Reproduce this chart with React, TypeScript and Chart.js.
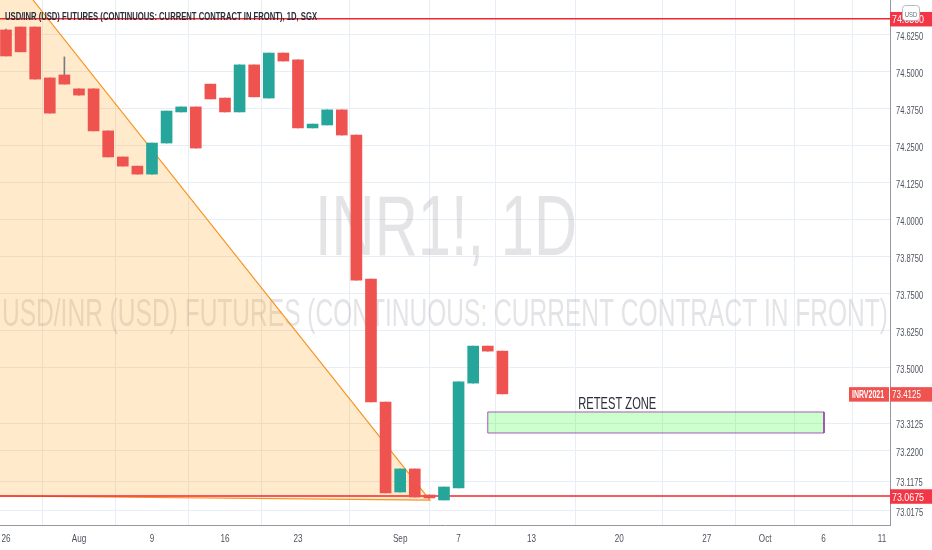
import React, { useEffect, useRef } from 'react';
import { Chart, registerables } from 'chart.js';

Chart.register(...registerables);

// ---- data ----
const OPEN = [74.642, 74.652, 74.652, 74.48, 74.49, 74.443, 74.443, 74.301, 74.213, 74.182, 74.155, 74.26, 74.365, 74.382, 74.459, 74.412, 74.365, 74.524, 74.412, 74.564, 74.541, 74.311, 74.321, 74.372, 74.287, 73.8, 73.385, 73.081, 73.159, 73.071, 73.054, 73.095, 73.449, 73.574, 73.557];
const CLOSE = [74.554, 74.568, 74.476, 74.361, 74.459, 74.422, 74.301, 74.213, 74.182, 74.155, 74.26, 74.368, 74.382, 74.243, 74.409, 74.365, 74.524, 74.416, 74.564, 74.537, 74.311, 74.324, 74.372, 74.287, 73.797, 73.385, 73.078, 73.159, 73.064, 73.061, 73.098, 73.453, 73.574, 73.557, 73.4125];
const HIGH = [74.645, 74.652, 74.652, 74.48, 74.551, 74.443, 74.443, 74.301, 74.213, 74.182, 74.26, 74.368, 74.382, 74.382, 74.459, 74.412, 74.524, 74.524, 74.564, 74.564, 74.541, 74.324, 74.372, 74.372, 74.287, 73.8, 73.385, 73.159, 73.159, 73.071, 73.098, 73.453, 73.574, 73.574, 73.557];
const LOW = [74.554, 74.568, 74.476, 74.361, 74.459, 74.422, 74.301, 74.213, 74.182, 74.155, 74.155, 74.26, 74.365, 74.243, 74.409, 74.365, 74.365, 74.416, 74.412, 74.537, 74.311, 74.311, 74.321, 74.287, 73.797, 73.385, 73.078, 73.081, 73.064, 73.061, 73.054, 73.095, 73.449, 73.557, 73.4125];

const X_TICK_INDEX = [0, 5, 10, 15, 20, 27, 31, 36, 42, 48, 52, 56, 60];
const X_TICK_LABELS = ['26', 'Aug', '9', '16', '23', 'Sep', '7', '13', '20', '27', 'Oct', '6', '11'];
const Y_TICKS = [73.0175, 73.1175, 73.22, 73.3125, 73.5, 73.625, 73.75, 73.875, 74.0, 74.125, 74.25, 74.375, 74.5, 74.625];

const PRICE_LINES = [74.68, 73.0675];
const LAST_PRICE = 73.4125;
const LAST_LABEL = 'INRV2021';

const TRIANGLE_X = [-0.41, 1.85, 29.04, -0.41];
const TRIANGLE_Y = [74.7432, 74.7432, 73.054, 73.0676];

const ZONE_X = [33.0, 56.03];
const ZONE_Y = [73.2804, 73.3514];
const ZONE_LABEL = 'RETEST ZONE';
const ZONE_LABEL_POS = [39.2, 73.3615];

const X_RANGE = [-0.41, 60.55];
const Y_RANGE = [72.9696, 74.7432];

const TITLE = 'USD/INR (USD) FUTURES (CONTINUOUS: CURRENT CONTRACT IN FRONT), 1D, SGX';
const WATERMARK_1 = 'INR1!, 1D';
const WATERMARK_2 = 'USD/INR (USD) FUTURES (CONTINUOUS: CURRENT CONTRACT IN FRONT)';

// ---- styles ----
const FONT = '"Liberation Sans", Arial, sans-serif';
const UP = '#26a69a';
const DOWN = '#ef5350';
const GRID = '#e8eef5';
const AXIS = '#9598a1';
const TEXT = '#131722';
const LABEL = '#4c525e';

function fitText(
  ctx: CanvasRenderingContext2D,
  text: string,
  x: number,
  y: number,
  font: string,
  color: string,
  opts: { width?: number; squeeze?: number; align?: 'left' | 'center' }
) {
  ctx.save();
  ctx.font = font;
  ctx.textAlign = 'left';
  ctx.textBaseline = 'alphabetic';
  const w = ctx.measureText(text).width;
  const s = opts.width ? opts.width / w : opts.squeeze || 1;
  const tw = w * s;
  const x0 = opts.align === 'center' ? x - tw / 2 : x;
  ctx.translate(x0, y);
  ctx.scale(s, 1);
  ctx.fillStyle = color;
  ctx.fillText(text, 0, 0);
  ctx.restore();
}

function box(ctx: CanvasRenderingContext2D, x: number, y: number, w: number, h: number, fill: string) {
  ctx.fillStyle = fill;
  ctx.fillRect(x, y, w, h);
}

const overlayPlugin = {
  id: 'overlay',
  beforeDatasetsDraw(chart: any) {
    const { ctx, chartArea } = chart;
    ctx.save();
    ctx.beginPath();
    ctx.rect(chartArea.left, chartArea.top, chartArea.right - chartArea.left, chartArea.bottom - chartArea.top);
    ctx.clip();
    const cx = (chartArea.left + chartArea.right) / 2 + 1;
    fitText(ctx, WATERMARK_1, cx, 255, `85px ${FONT}`, 'rgba(149,152,161,0.26)', { width: 262, align: 'center' });
    fitText(ctx, WATERMARK_2, cx - 1, 326, `39px ${FONT}`, 'rgba(149,152,161,0.26)', { width: 886, align: 'center' });
    ctx.restore();
  },
  afterDatasetsDraw(chart: any) {
    const { ctx } = chart;
    const xs = chart.scales.x;
    const ys = chart.scales.y;
    fitText(
      ctx,
      ZONE_LABEL,
      xs.getPixelForValue(ZONE_LABEL_POS[0]),
      ys.getPixelForValue(ZONE_LABEL_POS[1]),
      `16.5px ${FONT}`,
      '#2a2e39',
      { width: 78 }
    );
    fitText(ctx, TITLE, 5, 19.5, `bold 11px ${FONT}`, '#2a2e39', { width: 312 });
  },
  afterDraw(chart: any) {
    const { ctx, chartArea } = chart;
    const xs = chart.scales.x;
    const ys = chart.scales.y;
    // x tick labels
    xs.ticks.forEach((t: any) => {
      const i = X_TICK_INDEX.indexOf(t.value);
      if (i < 0) return;
      fitText(ctx, X_TICK_LABELS[i], xs.getPixelForValue(t.value), 541.5, `11px ${FONT}`, LABEL, {
        squeeze: 0.74,
        align: 'center',
      });
    });
    // y tick labels
    ys.ticks.forEach((t: any) => {
      const py = ys.getPixelForValue(t.value);
      fitText(ctx, t.value.toFixed(4), chartArea.right + 6, py + 5, `10px ${FONT}`, LABEL, { squeeze: 0.75 });
    });
    const axX = chartArea.right;
    // price line labels
    PRICE_LINES.forEach((v) => {
      const py = ys.getPixelForValue(v) + 0.5;
      box(ctx, axX, py - 7.25, 932 - axX, 14.5, '#f23645');
      fitText(ctx, v.toFixed(4), axX + 2, py + 4, `11px ${FONT}`, '#ffffff', { width: 32 });
    });
    // last price labels
    const lp = ys.getPixelForValue(LAST_PRICE) + 0.5;
    box(ctx, axX, lp - 7.25, 932 - axX, 14.5, '#ef5350');
    fitText(ctx, LAST_PRICE.toFixed(4), axX + 2, lp + 4, `11px ${FONT}`, '#ffffff', { width: 29 });
    box(ctx, axX - 41, lp - 7.25, 40, 14.5, '#ef5350');
    fitText(ctx, LAST_LABEL, axX - 38, lp + 4, `bold 11px ${FONT}`, '#ffffff', { width: 32 });
    // currency badge
    ctx.save();
    ctx.beginPath();
    ctx.roundRect(902.5, 5.5, 17, 15, 3);
    ctx.fillStyle = '#ffffff';
    ctx.fill();
    ctx.strokeStyle = '#b8bbc4';
    ctx.lineWidth = 1;
    ctx.stroke();
    ctx.restore();
    fitText(ctx, 'USD', 911, 16.5, `8px ${FONT}`, '#6a6d78', { width: 12.5, align: 'center' });
  },
};

export default function App() {
  const ref = useRef<HTMLCanvasElement | null>(null);

  useEffect(() => {
    if (!ref.current) return;
    const idx = OPEN.map((_, i) => i);
    const bodyColors = idx.map((i) => (CLOSE[i] >= OPEN[i] ? UP : DOWN));

    const datasets: any[] = [
      {
        type: 'line',
        data: TRIANGLE_X.map((x, i) => ({ x, y: TRIANGLE_Y[i] })),
        fill: 'shape',
        backgroundColor: 'rgba(255,152,0,0.2)',
        borderWidth: 0,
        pointRadius: 0,
        tension: 0,
        order: 20,
      },
      {
        type: 'line',
        data: TRIANGLE_X.slice(1).map((x, i) => ({ x, y: TRIANGLE_Y[i + 1] })),
        fill: false,
        borderColor: '#f7931e',
        borderWidth: 1.2,
        pointRadius: 0,
        tension: 0,
        order: 19,
      },
      {
        type: 'line',
        data: [
          { x: ZONE_X[0], y: ZONE_Y[1] },
          { x: ZONE_X[1], y: ZONE_Y[1] },
          { x: ZONE_X[1], y: ZONE_Y[0] },
          { x: ZONE_X[0], y: ZONE_Y[0] },
          { x: ZONE_X[0], y: ZONE_Y[1] },
        ],
        fill: 'shape',
        backgroundColor: 'rgba(0,255,0,0.2)',
        borderColor: 'rgba(142,36,170,0.75)',
        borderWidth: 1,
        pointRadius: 0,
        tension: 0,
        order: 18,
      },
      ...PRICE_LINES.map((v) => ({
        type: 'line',
        data: [
          { x: X_RANGE[0], y: v },
          { x: X_RANGE[1], y: v },
        ],
        fill: false,
        borderColor: '#f0282d',
        borderWidth: 1.5,
        pointRadius: 0,
        order: 5,
      })),
      {
        type: 'bar',
        data: idx.map((i) => ({ x: i, y: [LOW[i], HIGH[i]] })),
        backgroundColor: '#787b86',
        barThickness: 1,
        grouped: false,
        borderWidth: 0,
        order: 3,
      },
      {
        type: 'bar',
        data: idx.map((i) => ({ x: i, y: [OPEN[i], CLOSE[i]] })),
        backgroundColor: bodyColors,
        barThickness: 11,
        grouped: false,
        borderWidth: 0,
        order: 2,
      },
    ];

    const chart = new Chart(ref.current, {
      type: 'bar',
      data: { datasets },
      options: {
        animation: false,
        responsive: true,
        maintainAspectRatio: false,
        events: [],
        layout: { padding: 0 },
        plugins: { legend: { display: false }, tooltip: { enabled: false }, title: { display: false } },
        scales: {
          x: {
            type: 'linear',
            min: X_RANGE[0],
            max: X_RANGE[1],
            offset: false,
            grid: { color: GRID, drawTicks: false },
            border: { color: AXIS, width: 1 },
            ticks: { display: false, autoSkip: false },
            afterBuildTicks: (s: any) => {
              s.ticks = X_TICK_INDEX.map((v) => ({ value: v }));
            },
            afterFit: (s: any) => {
              s.height = 25;
              s.paddingLeft = 0;
              s.paddingRight = 0;
            },
          },
          y: {
            type: 'linear',
            position: 'right',
            min: Y_RANGE[0],
            max: Y_RANGE[1],
            grid: { color: GRID, drawTicks: false },
            border: { color: AXIS, width: 1 },
            ticks: { display: false, autoSkip: false },
            afterBuildTicks: (s: any) => {
              s.ticks = Y_TICKS.map((v) => ({ value: v }));
            },
            afterFit: (s: any) => {
              s.width = 42;
              s.paddingTop = 0;
              s.paddingBottom = 0;
            },
          },
        },
      } as any,
      plugins: [overlayPlugin],
    });
    return () => chart.destroy();
  }, []);

  return (
    <div style={{ position: 'fixed', left: 0, top: 0, width: 932, height: 550, background: '#ffffff' }}>
      <canvas ref={ref} />
    </div>
  );
}
